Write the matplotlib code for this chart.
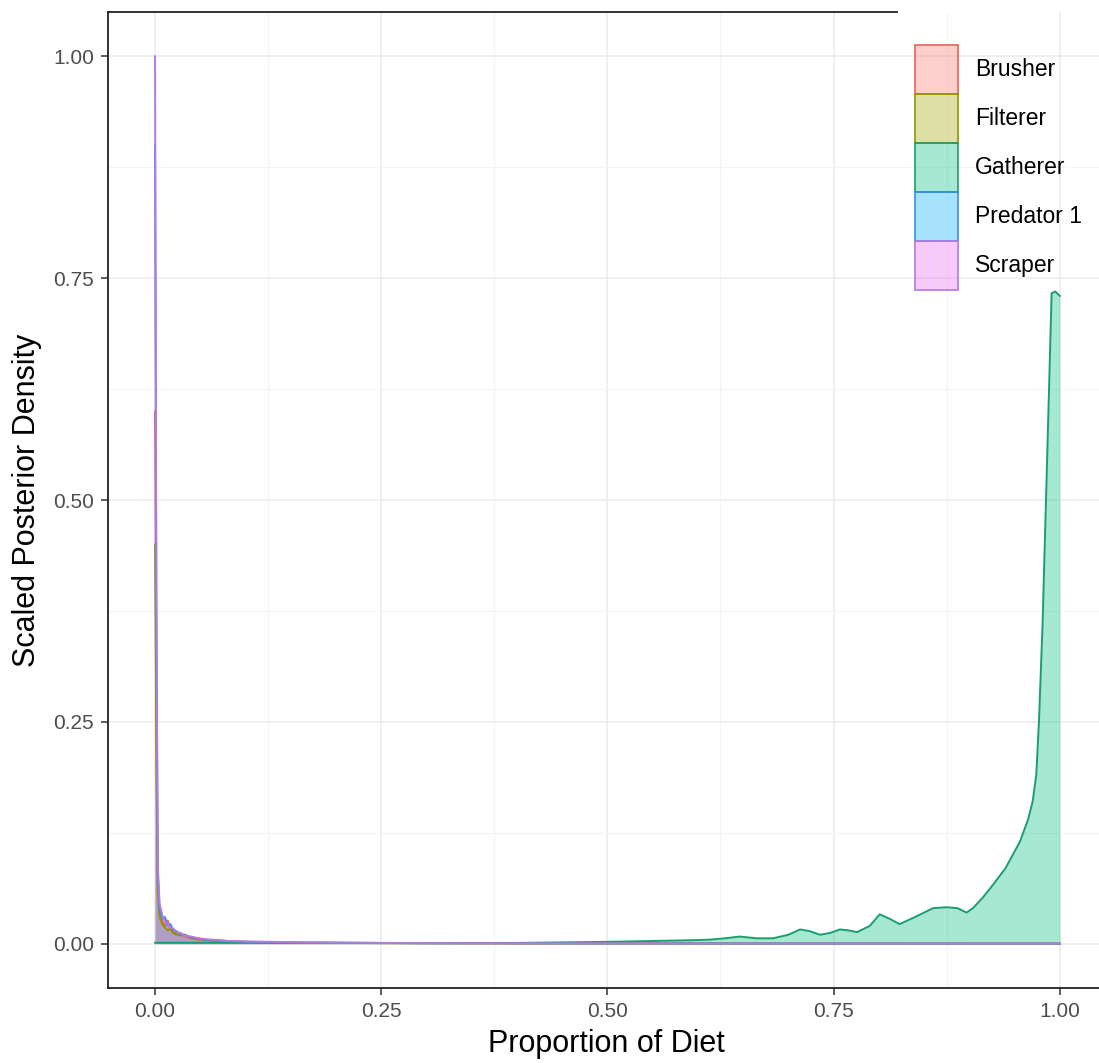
import matplotlib
matplotlib.use("Agg")
import matplotlib.pyplot as plt
from matplotlib.patches import Patch
from matplotlib.colors import to_rgba
from matplotlib.ticker import MultipleLocator

plt.rcParams['font.family'] = ['Liberation Sans', 'DejaVu Sans']

# ---- data ----
groups = ["Brusher", "Filterer", "Gatherer", "Predator 1", "Scraper"]
colors = ["#F8766D", "#A3A500", "#00BF7D", "#00B0F6", "#E76BF3"]
line_colors = ["#E8645B", "#939500", "#1B9E6E", "#3A8FE0", "#B47AE0"]

x_low = [0.0, 0.0015, 0.003, 0.005, 0.008, 0.011, 0.014, 0.017, 0.020, 0.024,
         0.028, 0.033, 0.040, 0.048, 0.057, 0.068, 0.080, 0.10, 0.13, 0.16,
         0.20, 0.25, 0.30, 0.40, 0.50, 0.60, 0.70, 0.80, 0.90, 1.0]
brusher = [0.60, 0.25, 0.07, 0.035, 0.025, 0.020, 0.026, 0.016, 0.014, 0.011,
           0.012, 0.008, 0.006, 0.005, 0.004, 0.003, 0.0025, 0.002, 0.0015, 0.001,
           0.0008, 0.0006, 0.0005, 0.0003, 0.0002, 0.0002, 0.0001, 0.0001, 0.0, 0.0]
filterer = [0.45, 0.20, 0.06, 0.030, 0.022, 0.018, 0.015, 0.017, 0.012, 0.010,
            0.009, 0.010, 0.006, 0.005, 0.004, 0.003, 0.002, 0.002, 0.0015, 0.001,
            0.0008, 0.0006, 0.0005, 0.0003, 0.0002, 0.0002, 0.0001, 0.0001, 0.0, 0.0]
predator1 = [0.90, 0.35, 0.08, 0.040, 0.028, 0.030, 0.020, 0.022, 0.015, 0.014,
             0.010, 0.010, 0.007, 0.006, 0.004, 0.004, 0.003, 0.002, 0.0015, 0.001,
             0.001, 0.0008, 0.0006, 0.0004, 0.0003, 0.0002, 0.0001, 0.0001, 0.0, 0.0]
scraper = [1.00, 0.40, 0.09, 0.045, 0.032, 0.025, 0.022, 0.018, 0.017, 0.013,
           0.012, 0.009, 0.008, 0.006, 0.005, 0.004, 0.003, 0.0025, 0.002, 0.0015,
           0.001, 0.0008, 0.0005, 0.0004, 0.0003, 0.0002, 0.0001, 0.0001, 0.0, 0.0]

x_gath = [0.0, 0.05, 0.1, 0.2, 0.3, 0.4, 0.5, 0.55, 0.6, 0.613, 0.63, 0.646, 0.665,
          0.683, 0.70, 0.713, 0.724, 0.735, 0.746, 0.757, 0.766, 0.776, 0.79,
          0.801, 0.812, 0.823, 0.84, 0.86, 0.875, 0.887, 0.897, 0.904, 0.915,
          0.926, 0.94, 0.956, 0.965, 0.970, 0.974, 0.977, 0.981, 0.986, 0.991,
          0.995, 1.0]
gatherer = [0.001, 0.001, 0.001, 0.001, 0.0005, 0.0008, 0.002, 0.003, 0.004, 0.0045,
            0.006, 0.008, 0.006, 0.006, 0.010, 0.016, 0.014, 0.010, 0.012, 0.016,
            0.015, 0.013, 0.020, 0.033, 0.028, 0.022, 0.030, 0.040, 0.041, 0.040,
            0.035, 0.040, 0.052, 0.066, 0.085, 0.115, 0.14, 0.16, 0.19, 0.25,
            0.36, 0.545, 0.733, 0.735, 0.73]

series = [(x_low, brusher), (x_low, filterer), (x_gath, gatherer),
          (x_low, predator1), (x_low, scraper)]

x_ticks = [0.0, 0.25, 0.5, 0.75, 1.0]
x_ticklabels = ["0.00", "0.25", "0.50", "0.75", "1.00"]
y_ticks = [0.0, 0.25, 0.5, 0.75, 1.0]
y_ticklabels = ["0.00", "0.25", "0.50", "0.75", "1.00"]

# ---- figure ----
W, H = 1099, 1063
fig = plt.figure(figsize=(W / 100, H / 100), dpi=100)
left_px, right_px, top_px, bot_px = 108, 1105, 12, 988
ax = fig.add_axes([left_px / W, 1 - bot_px / H, (right_px - left_px) / W,
                   (bot_px - top_px) / H])

ax.set_xlim(-0.052, 1.05)
ax.set_ylim(-0.05, 1.05)

ax.set_axisbelow(True)
ax.xaxis.set_minor_locator(MultipleLocator(0.125))
ax.yaxis.set_minor_locator(MultipleLocator(0.125))
ax.grid(which='major', color='#EBEBEB', lw=1.1)
ax.grid(which='minor', color='#F4F4F4', lw=0.8)
ax.tick_params(which='minor', length=0)

for (xs, ys), fc, lc in zip(series, colors, line_colors):
    ax.fill_between(xs, 0, ys, color=fc, alpha=0.35, lw=0)
    ax.plot(xs, ys, color=lc, lw=1.4, solid_joinstyle='round')

ax.set_xticks(x_ticks)
ax.set_xticklabels(x_ticklabels)
ax.set_yticks(y_ticks)
ax.set_yticklabels(y_ticklabels)
ax.tick_params(which='major', direction='out', length=5, width=1.1,
               color='#333333', labelcolor='#4D4D4D', labelsize=15, pad=5)

for s in ['left', 'bottom', 'top']:
    ax.spines[s].set_color('#222222')
    ax.spines[s].set_linewidth(1.3)
ax.spines['right'].set_visible(False)
ax.spines['top'].set_bounds(-0.052, 0.82)

ax.set_xlabel("Proportion of Diet", fontsize=22, labelpad=6)
ax.set_ylabel("Scaled Posterior Density", fontsize=22, labelpad=8)

handles = [Patch(facecolor=to_rgba(c, 0.35), edgecolor=lc, lw=1.2)
           for c, lc in zip(colors, line_colors)]
fs = 16.5
fpx = fs * 100 / 72
fig.legend(handles, groups, loc='upper left',
           bbox_to_anchor=(915 / W, 1 - 45 / H), frameon=False,
           fontsize=fs, borderpad=0, borderaxespad=0, labelspacing=0,
           handlelength=43 / fpx, handleheight=((49 / fpx) - 0.245) / 0.65,
           handletextpad=0.75)

fig.savefig("out.png", dpi=100)
